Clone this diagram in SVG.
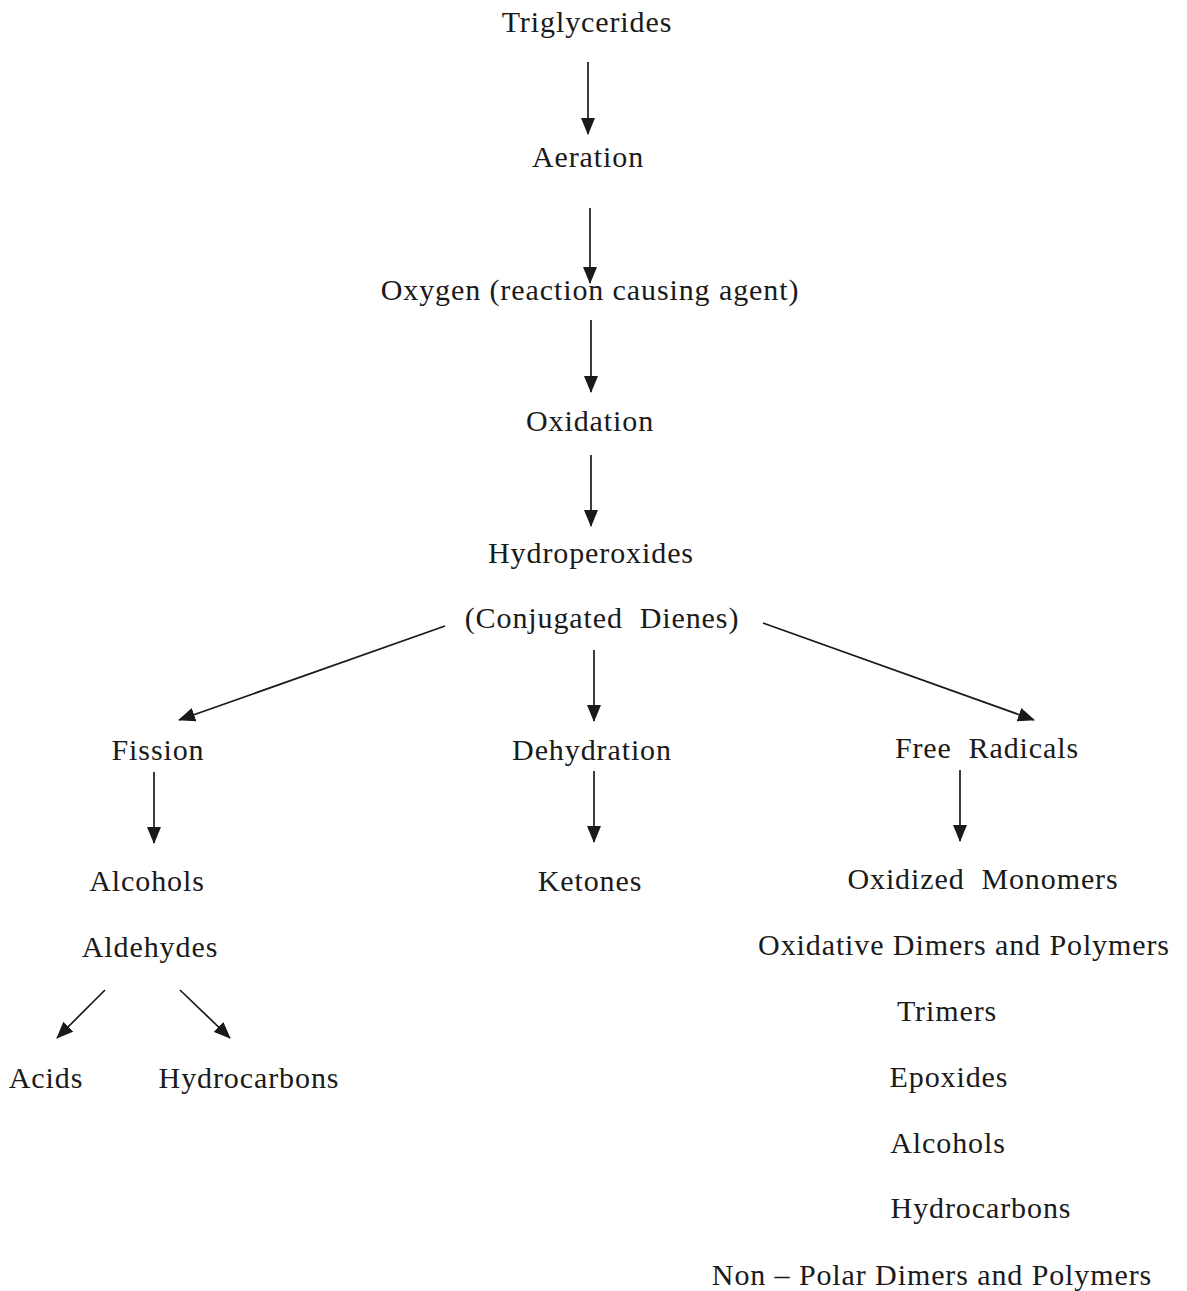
<svg xmlns="http://www.w3.org/2000/svg" width="1187" height="1291" viewBox="0 0 1187 1291">
<style>
text{font-family:"Liberation Serif","Times New Roman",serif;font-size:30px;fill:#1a1a1a;text-anchor:middle;letter-spacing:0.9px;white-space:pre}
.c line{stroke:#1a1a1a;stroke-width:1.7;marker-end:url(#ah)}
</style>
<defs>
<marker id="ah" markerUnits="userSpaceOnUse" markerWidth="17" markerHeight="14" refX="16" refY="7" orient="auto">
<path d="M0,0 L17,7 L0,14 Z" fill="#1a1a1a"/>
</marker>
</defs>
<rect width="1187" height="1291" fill="#fff"/>
<g id="n-triglycerides"><text x="587" y="32">Triglycerides</text></g>
<g id="n-aeration"><text x="588" y="167">Aeration</text></g>
<g id="n-oxygen"><text x="590" y="300">Oxygen (reaction causing agent)</text></g>
<g id="n-oxidation"><text x="590" y="431">Oxidation</text></g>
<g id="n-hydroperoxides"><text x="591" y="563">Hydroperoxides</text><text x="602" y="628" xml:space="preserve">(Conjugated  Dienes)</text></g>
<g id="n-fission"><text x="158" y="760">Fission</text></g>
<g id="n-dehydration"><text x="592" y="760">Dehydration</text></g>
<g id="n-freeradicals"><text x="987" y="758" xml:space="preserve">Free  Radicals</text></g>
<g id="n-alcohols-aldehydes"><text x="147" y="891">Alcohols</text><text x="150" y="957">Aldehydes</text></g>
<g id="n-ketones"><text x="590" y="891">Ketones</text></g>
<g id="n-products"><text x="983" y="889" xml:space="preserve">Oxidized  Monomers</text><text x="964" y="955">Oxidative Dimers and Polymers</text><text x="947" y="1021">Trimers</text><text x="949" y="1087">Epoxides</text><text x="948" y="1153">Alcohols</text><text x="981" y="1218">Hydrocarbons</text><text x="932" y="1285">Non – Polar Dimers and Polymers</text></g>
<g id="n-acids"><text x="46" y="1088">Acids</text></g>
<g id="n-hydrocarbons"><text x="249" y="1088">Hydrocarbons</text></g>
<g id="connectors" class="c">
<line x1="588" y1="62" x2="588" y2="134"/>
<line x1="590" y1="208" x2="590" y2="283"/>
<line x1="591" y1="320" x2="591" y2="392"/>
<line x1="591" y1="455" x2="591" y2="526"/>
<line x1="445" y1="626" x2="179" y2="720"/>
<line x1="594" y1="650" x2="594" y2="721"/>
<line x1="763" y1="623" x2="1034" y2="720"/>
<line x1="154" y1="772" x2="154" y2="843"/>
<line x1="594" y1="771" x2="594" y2="842"/>
<line x1="960" y1="770" x2="960" y2="841"/>
<line x1="105" y1="990" x2="57" y2="1038"/>
<line x1="180" y1="990" x2="230" y2="1038"/>
</g>
</svg>
